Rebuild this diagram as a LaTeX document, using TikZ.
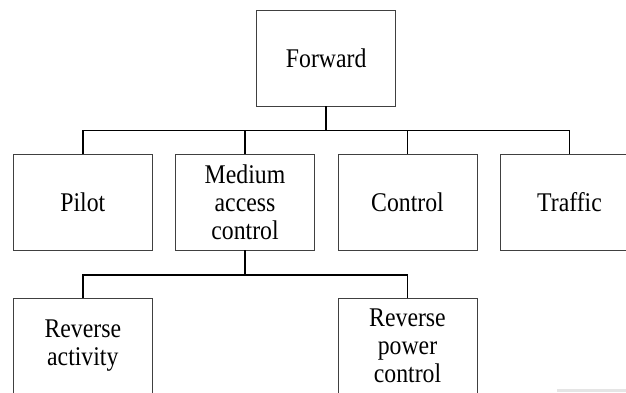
\documentclass[tikz,border=0pt]{standalone}
\usepackage{fontspec}
\setmainfont[FakeStretch=0.88]{Liberation Serif}
\usepackage{tikz}

\begin{document}
\begin{tikzpicture}[x=1pt,y=1pt,yscale=-1,xscale=1,
  box/.style={draw={rgb, 255:red, 64; green, 64; blue, 64}, line width=0.9pt, minimum width=139pt, minimum height=96pt, inner sep=0pt, align=center, font=\fontsize{27}{28}\selectfont},
  link/.style={draw=black, line width=1.6pt}]
\clip (0,0) rectangle (626,392);
\useasboundingbox (0,0) rectangle (626,392);

% Top box
\node [box] (fwd) at (326.2,58) {Forward};
% Middle row
\node [box] (pilot) at (82.8,202) {Pilot};
\node [box] (mac) at (245,202) {Medium\\access\\control};
\node [box] (ctrl) at (407.5,202) {Control};
\node [box] (traffic) at (569.5,202) {Traffic};
% Bottom row
\node [box] (revact) at (82.8,346) {Reverse\\activity};
\node [box] (revpow) at (407.5,346) {Reverse\\power\\control};

%Straight Lines
\foreach \child in {pilot,mac,ctrl,traffic}
  \draw [link] (fwd.south) -- ++(0,24) -| (\child.north);
%Straight Lines
\foreach \child in {revact,revpow}
  \draw [link] (mac.south) -- ++(0,24.5) -| (\child.north);

% gray strip
\fill [black!10] (557,388.7) rectangle (626,392);

\end{tikzpicture}
\end{document}
